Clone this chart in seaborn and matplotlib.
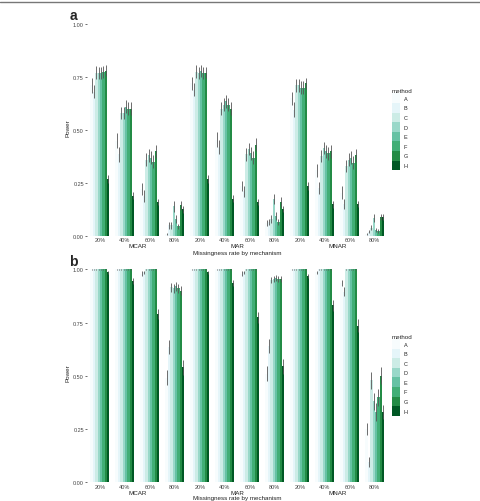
import matplotlib
matplotlib.use('Agg')
import matplotlib.pyplot as plt
import numpy as np
import pandas as pd
import seaborn as sns

rates = ['20%', '40%', '60%', '80%']
mechanisms = ['MCAR', 'MAR', 'MNAR']
methods = ['A', 'B', 'C', 'D', 'E', 'F', 'G', 'H']
palette = ['#F7FCFD', '#E5F5F9', '#CCECE6', '#99D8C9', '#66C2A4', '#41AE76', '#238B45', '#005824']

# rows: MCAR 20..80, MAR 20..80, MNAR 20..80 ; columns: methods A..H
power_a = [
    [0.71, 0.68, 0.77, 0.77, 0.77, 0.775, 0.78, 0.27],
    [0.45, 0.385, 0.58, 0.58, 0.61, 0.60, 0.60, 0.19],
    [0.22, 0.19, 0.36, 0.38, 0.37, 0.35, 0.40, 0.16],
    [0.01, 0.05, 0.05, 0.14, 0.08, 0.045, 0.145, 0.125],
    [0.72, 0.69, 0.775, 0.77, 0.78, 0.77, 0.77, 0.27],
    [0.455, 0.42, 0.60, 0.62, 0.635, 0.62, 0.60, 0.175],
    [0.235, 0.21, 0.385, 0.41, 0.39, 0.37, 0.43, 0.16],
    [0.06, 0.065, 0.08, 0.175, 0.095, 0.065, 0.16, 0.127],
    [0.65, 0.595, 0.71, 0.71, 0.70, 0.70, 0.72, 0.236],
    [0.31, 0.225, 0.377, 0.415, 0.40, 0.39, 0.40, 0.15],
    [0.205, 0.15, 0.33, 0.36, 0.37, 0.345, 0.38, 0.15],
    [0.01, 0.02, 0.04, 0.085, 0.03, 0.025, 0.09, 0.09],
]
err_a = [
    [0.035, 0.03, 0.03, 0.028, 0.028, 0.028, 0.026, 0.018],
    [0.035, 0.035, 0.03, 0.03, 0.03, 0.03, 0.03, 0.016],
    [0.028, 0.028, 0.03, 0.03, 0.03, 0.03, 0.03, 0.015],
    [0.006, 0.015, 0.015, 0.025, 0.018, 0.012, 0.022, 0.015],
    [0.03, 0.03, 0.03, 0.028, 0.028, 0.028, 0.026, 0.018],
    [0.035, 0.033, 0.03, 0.03, 0.03, 0.03, 0.03, 0.016],
    [0.025, 0.025, 0.03, 0.03, 0.03, 0.03, 0.03, 0.015],
    [0.015, 0.015, 0.018, 0.025, 0.018, 0.015, 0.022, 0.015],
    [0.03, 0.035, 0.03, 0.03, 0.03, 0.03, 0.026, 0.018],
    [0.03, 0.028, 0.03, 0.03, 0.03, 0.03, 0.03, 0.016],
    [0.03, 0.025, 0.03, 0.03, 0.03, 0.03, 0.03, 0.015],
    [0.006, 0.008, 0.012, 0.018, 0.01, 0.01, 0.015, 0.015],
]
power_b = [
    [1.0, 1.0, 1.0, 1.0, 1.0, 1.0, 1.0, 0.985],
    [1.0, 1.0, 1.0, 1.0, 1.0, 1.0, 1.0, 0.945],
    [0.98, 0.985, 1.0, 1.0, 1.0, 1.0, 1.0, 0.79],
    [0.49, 0.635, 0.915, 0.91, 0.92, 0.91, 0.90, 0.54],
    [1.0, 1.0, 1.0, 1.0, 1.0, 1.0, 1.0, 0.985],
    [1.0, 1.0, 1.0, 1.0, 1.0, 1.0, 1.0, 0.935],
    [0.98, 0.985, 1.0, 1.0, 1.0, 1.0, 1.0, 0.775],
    [0.51, 0.64, 0.95, 0.955, 0.96, 0.955, 0.955, 0.545],
    [1.0, 1.0, 1.0, 1.0, 1.0, 1.0, 1.0, 0.97],
    [0.985, 1.0, 1.0, 1.0, 1.0, 1.0, 1.0, 0.83],
    [0.935, 0.895, 1.0, 1.0, 1.0, 1.0, 1.0, 0.735],
    [0.25, 0.095, 0.48, 0.38, 0.33, 0.40, 0.50, 0.33],
]
err_b = [
    [0.004, 0.004, 0.004, 0.004, 0.004, 0.004, 0.004, 0.008],
    [0.004, 0.004, 0.004, 0.004, 0.004, 0.004, 0.004, 0.015],
    [0.01, 0.008, 0.004, 0.004, 0.004, 0.004, 0.004, 0.025],
    [0.035, 0.035, 0.02, 0.02, 0.02, 0.02, 0.02, 0.035],
    [0.004, 0.004, 0.004, 0.004, 0.004, 0.004, 0.004, 0.008],
    [0.004, 0.004, 0.004, 0.004, 0.004, 0.004, 0.004, 0.015],
    [0.01, 0.008, 0.004, 0.004, 0.004, 0.004, 0.004, 0.025],
    [0.035, 0.035, 0.015, 0.015, 0.015, 0.015, 0.015, 0.035],
    [0.004, 0.004, 0.004, 0.004, 0.004, 0.004, 0.004, 0.01],
    [0.008, 0.004, 0.004, 0.004, 0.004, 0.004, 0.004, 0.025],
    [0.015, 0.02, 0.004, 0.004, 0.004, 0.004, 0.004, 0.03],
    [0.03, 0.025, 0.04, 0.04, 0.04, 0.04, 0.04, 0.035],
]

sns.set_theme(style='white')
plt.rcParams['font.family'] = ['Liberation Sans', 'DejaVu Sans']

conds = [f'{m} {r}' for m in mechanisms for r in rates]


def to_frame(power, err):
    rows = []
    for i, c in enumerate(conds):
        for j, m in enumerate(methods):
            rows.append((c, m, power[i][j], err[i][j]))
    return pd.DataFrame(rows, columns=['cond', 'method', 'power', 'err'])


def draw_panel(ax, df, mech_off, title_off):
    sns.barplot(data=df, x='cond', y='power', hue='method', order=conds, hue_order=methods,
                palette=palette, saturation=1, width=0.75, errorbar=None, linewidth=0, ax=ax)
    # error bars placed on the drawn bars
    for m, cont in zip(methods, ax.containers):
        sub = df[df['method'] == m].set_index('cond').loc[conds]
        for bar, (_, r) in zip(cont, sub.iterrows()):
            x = bar.get_x() + bar.get_width() / 2
            lo = max(r['power'] - r['err'], 0)
            hi = min(r['power'] + r['err'], 1)
            ax.vlines(x, lo, hi, color='#555555', linewidth=0.6, zorder=3)
    ax.set_xlim(-0.5, len(conds) - 0.5)
    ax.set_ylim(0, 1.03)
    ax.set_yticks([0, 0.25, 0.5, 0.75, 1.0])
    ax.set_yticklabels(['0.00', '0.25', '0.50', '0.75', '1.00'])
    ax.set_xticks(range(len(conds)))
    ax.set_xticklabels(rates * len(mechanisms))
    ax.tick_params(axis='y', length=1.5, width=0.5, color='#333333', labelsize=4, pad=1,
                   labelcolor='#444444', left=True)
    ax.tick_params(axis='x', length=0, labelsize=4, pad=1, labelcolor='#444444')
    ax.set_xlabel('')
    ax.set_ylabel('Power', fontsize=4.5, labelpad=1.5, color='#222222')
    sns.despine(ax=ax, left=True, bottom=True)
    for k, mech in enumerate(mechanisms):
        ax.annotate(mech, xy=(k * 4 + 1.5, 0), xycoords=ax.get_xaxis_transform(),
                    xytext=(0, mech_off), textcoords='offset points',
                    ha='center', va='center', fontsize=4.5, color='#222222')
    ax.annotate('Missingness rate by mechanism', xy=(0.5, 0), xycoords='axes fraction',
                xytext=(0, title_off), textcoords='offset points',
                ha='center', va='center', fontsize=4.5, color='#222222')
    sns.move_legend(ax, 'upper left', bbox_to_anchor=(1.015, 0.676), frameon=False,
                    title='method', fontsize=4, title_fontsize=4.5, handlelength=1.45,
                    handleheight=2.28, labelspacing=0, handletextpad=0.7, borderpad=0,
                    borderaxespad=0, alignment='left')


fig = plt.figure(figsize=(4.8, 5.02), dpi=100)
ax_a = fig.add_axes([0.182, 0.5279, 0.625, 0.4351])
ax_b = fig.add_axes([0.182, 0.0373, 0.625, 0.437])

draw_panel(ax_a, to_frame(power_a, err_a), -7, -11.7)
draw_panel(ax_b, to_frame(power_b, err_b), -7.7, -10.8)

fig.text(0.152, 0.968, 'a', fontsize=10, fontweight='bold', ha='center', va='center')
fig.text(0.152, 0.478, 'b', fontsize=10, fontweight='bold', ha='center', va='center')
fig.add_artist(plt.Line2D([0, 1], [1 - 2.5 / 502, 1 - 2.5 / 502], transform=fig.transFigure,
                          color='#777777', linewidth=1))

fig.savefig('out.png', dpi=100)
